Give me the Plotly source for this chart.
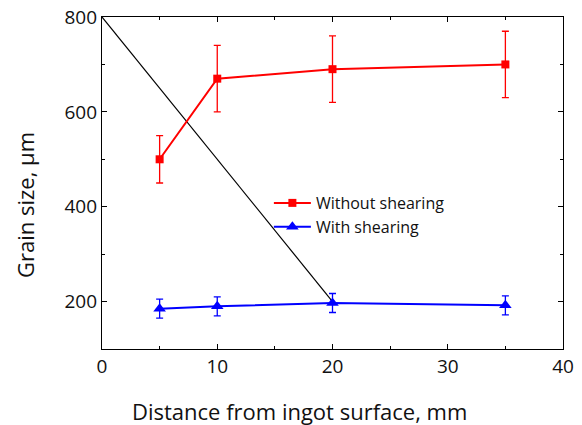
import plotly.graph_objects as go

x_pos = [5, 10, 20, 35]
without_shear = [500, 670, 690, 700]
without_err = [50, 70, 70, 70]
with_shear = [185, 190, 197, 192]
with_err = [20, 20, 20, 20]
guide_x = [0, 20]
guide_y = [800, 200]

fig = go.Figure()
fig.add_trace(go.Scatter(x=guide_x, y=guide_y, mode="lines",
                         line=dict(color="black", width=1.2), showlegend=False, hoverinfo="skip"))
fig.add_trace(go.Scatter(x=x_pos, y=without_shear, mode="lines+markers", name="Without shearing",
                         line=dict(color="#ff0000", width=2),
                         marker=dict(symbol="square", size=8, color="#ff0000"),
                         error_y=dict(type="data", array=without_err, color="#ff0000", thickness=1.3, width=3.5)))
fig.add_trace(go.Scatter(x=x_pos, y=with_shear, mode="lines+markers", name="With shearing",
                         line=dict(color="#0000ff", width=2),
                         marker=dict(symbol="triangle-up", size=11, color="#0000ff"),
                         error_y=dict(type="data", array=with_err, color="#0000ff", thickness=1.3, width=3.5)))

axis_common = dict(showline=True, linecolor="black", linewidth=1.2, showgrid=False, zeroline=False,
                   automargin=False, ticklabeloverflow="allow",
                   ticks="inside", ticklen=5, tickwidth=1, tickcolor="black",
                   tickfont=dict(family="Open Sans", size=19, color="#111"),
                   minor=dict(ticks="inside", ticklen=3, tickwidth=1, tickcolor="black"))

fig.update_xaxes(range=[0, 40], tickvals=[0, 10, 20, 30, 40], mirror="ticks",
                 minor_dtick=5, **axis_common)
fig.update_yaxes(range=[100, 800], tickvals=[200, 400, 600, 800], mirror="ticks",
                 minor_dtick=100, **axis_common)

fig.update_layout(
    width=574, height=417,
    margin=dict(l=94, r=19, t=9, b=76),
    plot_bgcolor="white", paper_bgcolor="white",
    showlegend=True,
    legend=dict(x=0.362, y=0.491, xanchor="left", yanchor="top", bgcolor="rgba(0,0,0,0)",
                font=dict(family="Open Sans", size=16, color="#111"), tracegroupgap=0,
                itemwidth=37),
    annotations=[
        dict(text="Distance from ingot surface, mm", xref="paper", yref="paper",
             x=(299 - 102) / 461, y=(349 - 411) / 332, xanchor="center", yanchor="middle",
             showarrow=False, font=dict(family="Open Sans", size=22, color="#111")),
        dict(text="Grain size, µm", xref="paper", yref="paper", textangle=-90,
             x=(25 - 102) / 461, y=(349 - 205) / 332, xanchor="center", yanchor="middle",
             showarrow=False, font=dict(family="Open Sans", size=22, color="#111")),
    ],
)

fig.write_html("out.html")
